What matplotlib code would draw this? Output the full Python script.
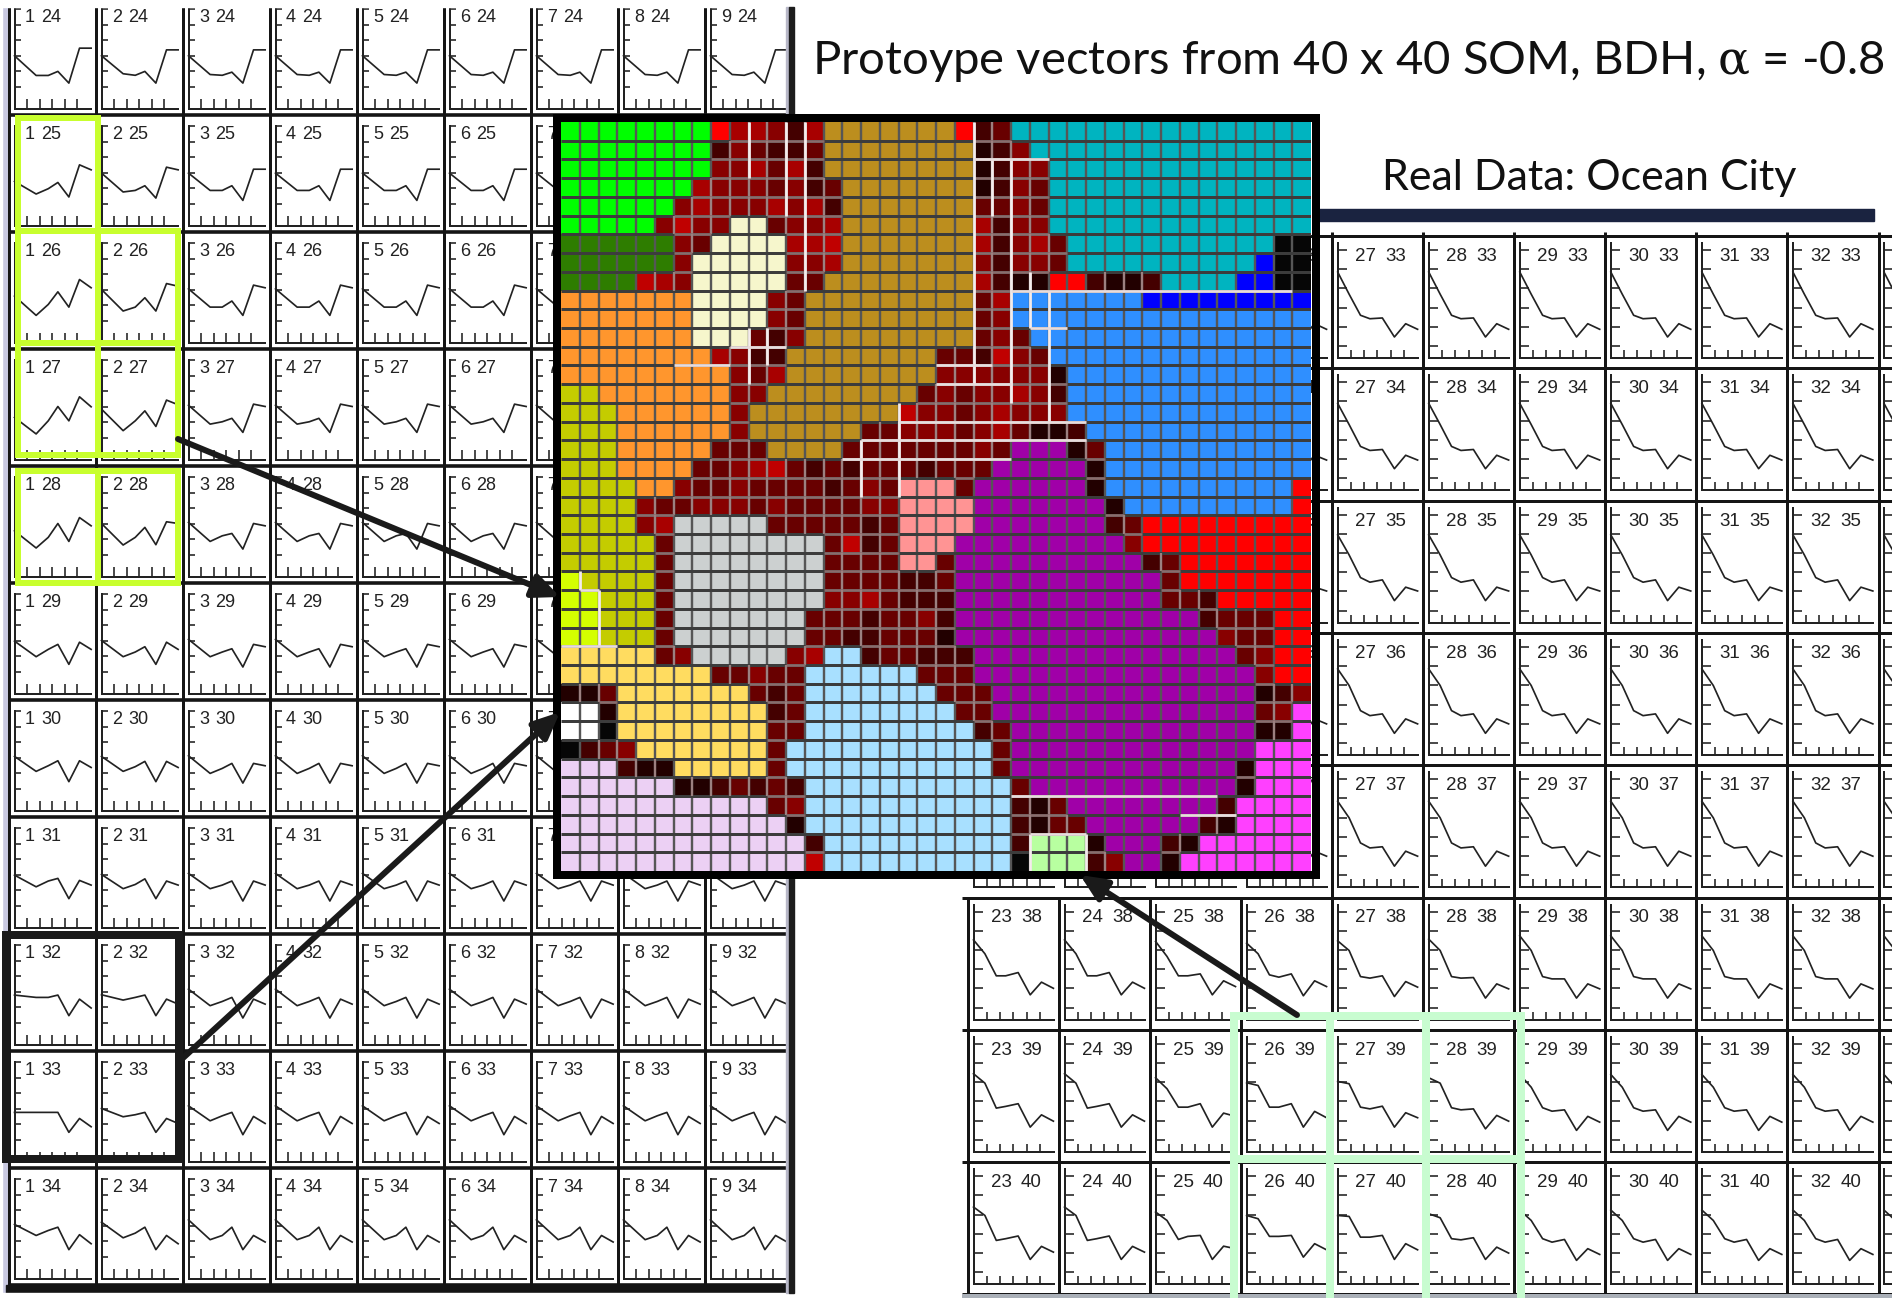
import numpy as np
from matplotlib import pyplot as plt
from matplotlib.colors import ListedColormap
from matplotlib.patches import Rectangle

W, H = 1892, 1298

# cluster map of the 40 x 40 SOM, one letter per unit
SOM_ROWS = [
    'GGGGGGGGR11241BBBBBBBR43TTTTTTTTTTTTTTTT',
    'GGGGGGGG423443BBBBBBBB542TTTTTTTTTTTTTTT',
    'GGGGGGGG221314BBBBBBBB5422TTTTTTTTTTTTTT',
    'GGGGGGG12223243BBBBBBB5423TTTTTTTTTTTTTT',
    'GGGGGG212221214BBBBBBB3323TTTTTTTTTTTTTT',
    'GGGGG2r22CC3221BBBBBBB1422TTTTTTTTTTTTTT',
    'gggggg23CCCC11rBBBBBBB14213TTTTTTTTTTTKK',
    'gggggg2CCCCC221BBBBBBB24223TTTTTTTTTTbKK',
    'ggggr12CCCCC33BBBBBBBB1455RR4554TTTTbbKK',
    'OOOOOOOCCCC23BBBBBBBBB31LLLLLLLbbbbbbbbb',
    'OOOOOOOCCCC23BBBBBBBBB32LLLLLLLLLLLLLLLL',
    'OOOOOOOCCC342BBBBBBBBB323LLLLLLLLLLLLLLL',
    'OOOOOOOO1244BBBBBBBB334r23LLLLLLLLLLLLLL',
    'OOOOOOOOO231BBBBBBBB2222225LLLLLLLLLLLLL',
    'YYOOOOOOO22BBBBBBBB32322124LLLLLLLLLLLLL',
    'YYYOOOOOO2BBBBBBBBr22321222LLLLLLLLLLLLL',
    'YYYOOOOOO2BBBBBB332223213554LLLLLLLLLLLL',
    'YYYOOOOO333BBBB333333323MMM53LLLLLLLLLLL',
    'YYYOOOO3321r34343334333MMMMM5LLLLLLLLLLL',
    'YYYYOO233233334323PPP3MMMMMM5LLLLLLLLLLR',
    'YYYY23322232333322PPPPMMMMMMM5LLLLLLLLLR',
    'YYYY21SSSSS3333343PPPPMMMMMMM43RRRRRRRRR',
    'YYYYY3SSSSSSSS3r43PPPMMMMMMMMM2RRRRRRRRR',
    'YYYYY3SSSSSSSS3333PP3MMMMMMMMMM43RRRRRRR',
    'yYYYY3SSSSSSSS3333443MMMMMMMMMMM3RRRRRRR',
    'yyYYY3SSSSSSSS2213444MMMMMMMMMMM334RRRRR',
    'yyYYY3SSSSSSS33343324MMMMMMMMMMMMM4333RR',
    'yyYYY3SSSSSSS33443335MMMMMMMMMMMMMM233RR',
    'FFFFF32SSSSS21AA433444MMMMMMMMMMMMMM32RR',
    'FFFFFFFF33233AAAAAA333MMMMMMMMMMMMMMM2RR',
    '553FFFFFFF343AAAAAAA333MMMMMMMMMMMMMM542',
    'WW5FFFFFFFF43AAAAAAAA33MMMMMMMMMMMMMM32m',
    'WWKFFFFFFFF33AAAAAAAAA43MMMMMMMMMMMMM55m',
    'K432FFFFFFF3AAAAAAAAAAA3MMMMMMMMMMMMMmmm',
    'VVV455FFFFF3AAAAAAAAAAA3MMMMMMMMMMMM5mmm',
    'VVVVVV5543434AAAAAAAAAAA3MMMMMMMMMMM5mmm',
    'VVVVVVVVVVV32AAAAAAAAAAA453MMMMMMMM4mmmm',
    'VVVVVVVVVVVV5AAAAAAAAAAA4533MMMMMM45mmmm',
    'VVVVVVVVVVVVV4AAAAAAAAAA4NNN5MMM45mmmmmm',
    'VVVVVVVVVVVVVrAAAAAAAAAAKNNN42MM5mmmmmmm',
]
SOM_CODES = 'GgOYyCBTbLKRPMmSFWVANr12345'
SOM_COLORS = ['#00ff00', '#2e7d00', '#ff962d', '#c4cc00', '#d4ff00', '#f6f6cc', '#bc8e1e', '#00b4c0', '#0000ff',
              '#2f8fff', '#060606', '#ff0000', '#ff9494', '#a000a8', '#ff40ff', '#ccd0d0', '#ffdc60', '#ffffff',
              '#ecd0f4', '#a8e0ff', '#b8ffa0', '#c00000', '#a80000', '#880000', '#680000', '#440000', '#220000']
DARK_CODES = 'r12345'

# left block, units 1-9 x 24-34: first column, second column, all the others
LEFT_X = [0, 1.73, 2.7, 3.47, 4.35, 5.2, 6.13]
LEFT_ROWS = list(range(24, 35))
LEFT_COLS = list(range(1, 10))
LEFT_C1 = [[2.0, 0.74, 0.74, 1.0, 0.25, 2.49, 2.49],
           [1.45, 0.64, 0.98, 1.38, 0.45, 2.51, 2.19],
           [1.6, 0.36, 1.06, 1.87, 0.89, 2.66, 2.13],
           [1.32, 0.26, 1.1, 2.02, 1.1, 2.64, 2.0],
           [1.55, 0.45, 1.13, 2.02, 0.87, 2.4, 1.87],
           [1.98, 0.98, 1.45, 1.77, 0.49, 1.91, 1.45],
           [2.09, 1.13, 1.49, 1.81, 0.47, 1.81, 1.38],
           [1.98, 1.23, 1.6, 1.77, 0.47, 1.64, 1.34],
           [1.79, 1.64, 1.64, 1.79, 0.47, 1.53, 0.96],
           [1.77, 1.77, 1.77, 1.77, 0.49, 1.38, 0.85],
           [2.09, 1.38, 1.7, 1.91, 0.47, 1.43, 0.85]]
LEFT_C2 = [[2.0, 0.85, 0.75, 1.0, 0.25, 2.38, 2.38],
           [1.98, 0.77, 0.87, 1.17, 0.38, 2.36, 2.19],
           [2.02, 0.64, 0.89, 1.49, 0.64, 2.4, 2.23],
           [1.85, 0.47, 1.1, 1.74, 0.74, 2.43, 2.13],
           [2.02, 0.64, 1.13, 1.77, 0.66, 2.13, 2.02],
           [2.02, 0.98, 1.28, 1.62, 0.49, 1.91, 1.45],
           [2.09, 1.13, 1.43, 1.77, 0.47, 1.77, 1.38],
           [2.02, 1.11, 1.38, 1.74, 0.47, 1.6, 1.34],
           [1.81, 1.47, 1.64, 1.79, 0.47, 1.53, 1.21],
           [2.02, 1.49, 1.62, 1.77, 0.49, 1.38, 1.06],
           [2.23, 1.23, 1.53, 1.91, 0.47, 1.38, 0.85]]
LEFT_REST = [[2.0, 0.8, 0.75, 0.95, 0.25, 2.38, 2.38],
             [1.98, 0.87, 0.87, 1.17, 0.23, 2.23, 2.23],
             [2.06, 0.89, 0.89, 1.28, 0.36, 2.3, 2.13],
             [2.1, 0.89, 1.04, 1.26, 0.36, 2.17, 2.02],
             [2.09, 0.87, 1.23, 1.38, 0.38, 2.02, 1.87],
             [2.09, 0.98, 1.28, 1.49, 0.32, 1.77, 1.62],
             [2.13, 1.0, 1.32, 1.64, 0.38, 1.64, 1.49],
             [2.09, 1.11, 1.34, 1.6, 0.32, 1.6, 1.34],
             [2.17, 1.11, 1.38, 1.64, 0.32, 1.53, 1.21],
             [2.19, 1.23, 1.55, 1.77, 0.34, 1.51, 1.06],
             [2.38, 1.11, 1.38, 1.91, 0.47, 1.38, 0.96]]

# right block, units 23-33 x 33-40
RIGHT_X = [0, 0.86, 1.72, 2.43, 3.37, 4.28, 5.13, 6.03]
RIGHT_TOP = {33: [3.85, 2.7, 1.6, 1.42, 1.46, 0.47, 1.16, 0.87],
             34: [3.9, 2.8, 1.66, 1.45, 1.5, 0.5, 1.2, 0.95],
             35: [3.94, 2.9, 1.72, 1.48, 1.6, 0.52, 1.22, 1.02],
             36: [3.85, 2.99, 1.68, 1.42, 1.51, 0.5, 1.25, 0.99],
             37: [3.85, 2.99, 1.68, 1.42, 1.48, 0.47, 1.25, 0.99]}
RIGHT_BOTTOM = {38: [[3.52, 2.8, 1.65, 1.65, 1.82, 0.66, 1.32, 1.0],
                     [3.52, 2.8, 1.65, 1.65, 1.82, 0.66, 1.32, 1.0],
                     [3.44, 2.66, 1.65, 1.65, 1.75, 0.66, 1.39, 1.09],
                     [3.35, 2.8, 1.7, 1.58, 1.75, 0.61, 1.39, 1.09],
                     [3.47, 2.97, 1.61, 1.53, 1.65, 0.57, 1.35, 1.06],
                     [3.56, 2.97, 1.61, 1.53, 1.56, 0.49, 1.23, 0.97],
                     [3.73, 2.97, 1.61, 1.49, 1.49, 0.49, 1.23, 0.97]],
                39: [[3.44, 2.95, 1.65, 1.74, 1.88, 0.66, 1.3, 0.97],
                     [3.44, 2.95, 1.65, 1.74, 1.88, 0.66, 1.3, 0.97],
                     [3.23, 2.66, 1.7, 1.7, 1.88, 0.66, 1.39, 1.22],
                     [2.97, 2.83, 1.7, 1.7, 1.88, 0.66, 1.48, 1.15],
                     [3.04, 2.92, 1.7, 1.61, 1.75, 0.66, 1.41, 1.15],
                     [3.23, 2.95, 1.67, 1.56, 1.61, 0.57, 1.27, 0.97],
                     [3.4, 2.74, 1.67, 1.49, 1.56, 0.49, 1.22, 0.92]],
                40: [[3.39, 2.95, 1.65, 1.74, 1.88, 0.66, 1.34, 1.04],
                     [3.39, 2.95, 1.65, 1.74, 1.88, 0.66, 1.34, 1.04],
                     [3.13, 2.69, 1.7, 1.86, 1.91, 0.66, 1.35, 1.22],
                     [2.95, 2.78, 1.86, 1.86, 1.91, 0.78, 1.48, 1.16],
                     [2.95, 2.9, 1.82, 1.82, 1.91, 0.66, 1.48, 1.16],
                     [3.04, 2.83, 1.74, 1.68, 1.79, 0.66, 1.3, 0.99],
                     [3.23, 2.69, 1.74, 1.56, 1.7, 0.61, 1.22, 0.92]]}

# lighter grid segments of the map: (boundary, from, to)
WHITE_V = [(10, 0, 3), (12, 0, 5), (13, 0, 9), (22, 0, 14), (23, 2, 5), (24, 2, 15), (25, 8, 11), (26, 9, 16),
           (10, 11, 14), (11, 11, 13), (16, 17, 20), (18, 15, 20), (1, 24, 25), (2, 25, 28), (25, 38, 40),
           (28, 38, 40)]
WHITE_H = [(2, 22, 26), (9, 24, 39), (11, 25, 27), (12, 9, 12), (13, 6, 9), (13, 20, 23), (14, 20, 24), (16, 18, 28),
           (17, 16, 28), (18, 15, 24), (28, 0, 3), (25, 1, 2), (36, 24, 35), (37, 33, 36), (38, 25, 28)]


def px(v):
    return v * 0.72


def cell_axes(fig, x0, y0, w, h, unit_x, unit_y, x_ticks_at, tick0, base, top, x_end, xvals, yvals, tick_x, tick_y):
    ax = fig.add_axes([x0 / W, 1 - (y0 + h) / H, w / W, h / H], zorder=1)
    ax.patch.set_alpha(0)
    ax.set_xlim(-x_ticks_at / unit_x, (w - x_ticks_at) / unit_x)
    ax.set_ylim((tick0 - h) / unit_y, tick0 / unit_y)
    for s in ['top', 'right']:
        ax.spines[s].set_visible(False)
    y_base = (tick0 - base) / unit_y
    ax.spines['left'].set_position(('data', 0))
    ax.spines['left'].set_bounds(y_base, (tick0 - top) / unit_y)
    ax.spines['bottom'].set_position(('data', y_base))
    ax.spines['bottom'].set_bounds(0, (x_end - x_ticks_at) / unit_x)
    for s in ['left', 'bottom']:
        ax.spines[s].set_linewidth(px(2))
        ax.spines[s].set_color('#222222')
    ax.set_xticks([1, 2, 3, 4, 5])
    ax.set_yticks([0, 1, 2, 3, 4, 5])
    ax.tick_params(axis='x', direction='in', length=px(tick_x), width=px(1.6), color='#222222',
                   labelbottom=False, pad=0)
    ax.tick_params(axis='y', direction='in', length=px(tick_y), width=px(1.6), color='#222222',
                   labelleft=False, pad=0)
    ax.plot(xvals, yvals, color='#222222', lw=px(1.7), clip_on=False)
    return ax


def cell_label(ax, w, h, xa, xb, y, col, row, size):
    for x, t in ((xa, col), (xb, row)):
        ax.text(x / w, 1 - y / h, str(t), transform=ax.transAxes, ha='left', va='baseline', fontsize=size,
                family=['Liberation Sans Narrow', 'Liberation Sans'], color='#222222')


plt.rcParams['mathtext.fontset'] = 'dejavuserif'
fig = plt.figure(figsize=(W / 100, H / 100), dpi=100, facecolor='white')

bg = fig.add_axes([0, 0, 1, 1], zorder=0)
bg.set_xlim(0, W)
bg.set_ylim(H, 0)
bg.axis('off')

# left block frames
LEFT_DX, LEFT_DY = 87.0, 117.0
for k in range(10):
    bg.vlines(9 + LEFT_DX * k, 0, 1290, color='#151515', lw=px(3))
for k in range(12):
    bg.hlines(-2 + LEFT_DY * k, 9, 790, color='#151515', lw=px(3.6))
bg.add_patch(Rectangle((2, 7), 6, 1285, color='#c8c8e0'))
bg.add_patch(Rectangle((6, 1285), 784, 8, color='#151515'))

for i, row in enumerate(LEFT_ROWS):
    for col in LEFT_COLS:
        vals = LEFT_C1[i] if col == 1 else LEFT_C2[i] if col == 2 else LEFT_REST[i]
        x0 = 9 + LEFT_DX * (col - 1)
        y0 = -2 + LEFT_DY * i
        ax = cell_axes(fig, x0, y0, LEFT_DX, LEFT_DY, 12.5, 15.6, 5.5, 89, 111, 11, 82, LEFT_X, vals, 10, 6)
        cell_label(ax, LEFT_DX, LEFT_DY, 16, 32, 24, col, row, 13)

# right block frames
RIGHT_DX, RIGHT_DY = 91.05, 132.3
RIGHT_X0, RIGHT_Y0 = 968.0, 236.0
for k in range(11):
    bg.vlines(RIGHT_X0 + RIGHT_DX * k, 897 if k < 4 else 232, 1296, color='#151515', lw=px(3))
for k in range(9):
    x_from = 1300 if k < 5 else RIGHT_X0 - 6
    bg.hlines(RIGHT_Y0 + RIGHT_DY * k, x_from, W, color='#151515', lw=px(3))
bg.hlines(1296, RIGHT_X0 - 6, W, color='#aab0b8', lw=px(4))


def right_cell(col, row, vals):
    x0 = RIGHT_X0 + RIGHT_DX * (col - 23)
    y0 = RIGHT_Y0 + RIGHT_DY * (row - 33)
    ax = cell_axes(fig, x0, y0, RIGHT_DX, RIGHT_DY, 13.25, 19.2, 5.5, 110, 122, 7, 86, RIGHT_X, vals, 8, 8.5)
    if col < 33:
        cell_label(ax, RIGHT_DX, RIGHT_DY, 23, 53, 25, col, row, 13.5)


for row, vals in RIGHT_TOP.items():
    for col in range(26, 34):
        right_cell(col, row, vals)
for col in range(23, 26):
    right_cell(col, 37, RIGHT_TOP[37])
for row, profiles in RIGHT_BOTTOM.items():
    for col in range(23, 34):
        right_cell(col, row, profiles[min(col - 23, len(profiles) - 1)])

# overlay in picture pixels
top = fig.add_axes([0, 0, 1, 1], zorder=2)
top.set_xlim(0, W)
top.set_ylim(H, 0)
top.axis('off')
top.patch.set_alpha(0)
top.add_patch(Rectangle((0, 0), 794, 7, color='white'))
top.add_patch(Rectangle((0, 0), 2, H, color='white'))
top.add_patch(Rectangle((0, 1293), 960, 5, color='white'))
top.add_patch(Rectangle((786, 7), 3, 1286, color='#b8b8c8'))
top.add_patch(Rectangle((789, 7), 5, 1286, color='#1c1c1c'))

LIME = '#c8ff2e'
for x0, y0, x1, y1 in [(18, 118, 98, 231), (18, 231, 98, 343), (98, 231, 178, 343), (18, 343, 98, 455),
                       (98, 343, 178, 455), (18, 471, 98, 583), (98, 471, 178, 583)]:
    top.add_patch(Rectangle((x0, y0), x1 - x0, y1 - y0, fill=False, ec=LIME, lw=px(6), joinstyle='miter'))
top.add_patch(Rectangle((6, 934.5), 172.5, 224, fill=False, ec='#1a1a1a', lw=px(8), joinstyle='miter'))

PALE = '#c8fcd0'
for x in [1234, 1330, 1426, 1521]:
    top.vlines(x, 1012, H, color=PALE, lw=px(8))
for y in [1015.5, 1159]:
    top.hlines(y, 1230, 1525, color=PALE, lw=px(8))

top.add_patch(Rectangle((1317, 209), 557, 12, color='#1a2340'))

top.text(812, 74, 'Protoype vectors from 40 x 40 SOM, BDH, $\\mathrm{\\alpha}$ = -0.8', fontsize=34, family='Lato',
         ha='left', va='baseline', color='#111111')
top.text(1382, 190, 'Real Data: Ocean City', fontsize=31, family='Lato', ha='left', va='baseline', color='#111111')

# SOM map
som = fig.add_axes([561 / W, 1 - 871 / H, 750 / W, 749 / H], zorder=3)
codes = np.array([[SOM_CODES.index(c) for c in r] for r in SOM_ROWS])
som.pcolormesh(np.arange(41), np.arange(41), codes, cmap=ListedColormap(SOM_COLORS), vmin=0,
               vmax=len(SOM_CODES) - 1, antialiased=False)
som.set_xlim(0, 40)
som.set_ylim(40, 0)
som.set_xticks([])
som.set_yticks([])
for s in som.spines.values():
    s.set_visible(False)
som.vlines(np.arange(1, 40), 0, 40, color='#565656', lw=px(2.4))
som.hlines(np.arange(1, 40), 0, 40, color='#3c3c3c', lw=px(3))

# grid between two dark-red units reads paler
for r, line in enumerate(SOM_ROWS):
    for c, ch in enumerate(line):
        if ch not in DARK_CODES:
            continue
        if c < 39 and line[c + 1] in DARK_CODES:
            som.vlines(c + 1, r, r + 1, color='#9c8080', lw=px(2.2))
        if r < 39 and SOM_ROWS[r + 1][c] in DARK_CODES:
            som.hlines(r + 1, c, c + 1, color='#8a6c6c', lw=px(2.6))
for b, a0, a1 in WHITE_V:
    som.vlines(b, a0, a1, color='#f4ecec', lw=px(2.8))
for b, a0, a1 in WHITE_H:
    som.hlines(b, a0, a1, color='#e8dcdc', lw=px(2.8))

front = fig.add_axes([0, 0, 1, 1], zorder=4)
front.set_xlim(0, W)
front.set_ylim(H, 0)
front.axis('off')
front.patch.set_alpha(0)
front.add_patch(Rectangle((557, 117.5), 759, 757, fill=False, ec='black', lw=px(8), joinstyle='miter'))
for start, end in [((178, 439), (560, 597)), ((183, 1058), (560, 712)), ((1297, 1015), (1080, 875))]:
    front.annotate('', xy=end, xytext=start,
                   arrowprops=dict(arrowstyle='-|>,head_length=1.0,head_width=0.45', color='#1a1a1a', lw=px(6),
                                   shrinkA=0, shrinkB=0, mutation_scale=16))

fig.savefig('out.png', dpi=100)
